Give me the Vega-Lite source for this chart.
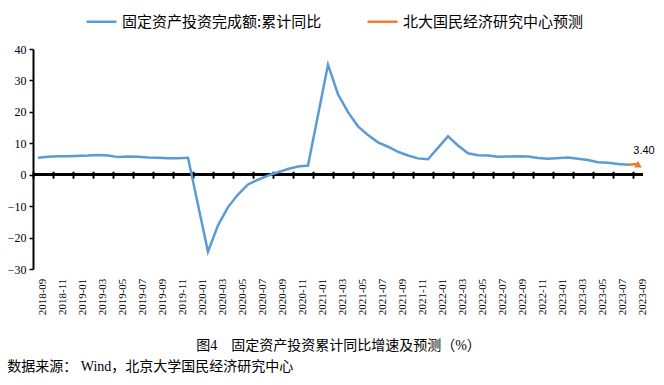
{
  "$schema": "https://vega.github.io/schema/vega-lite/v6.json",
  "width": 610,
  "height": 220,
  "autosize": "none",
  "padding": {"left": 33, "top": 49, "right": 21, "bottom": 116},
  "background": "white",
  "config": {"view": {"stroke": null}, "axis": {"labelOverlap": false}, "axisY": {"labelOverlap": false}},
  "title": {
    "text": "数据来源：  Wind，北京大学国民经济研究中心",
    "orient": "bottom",
    "anchor": "start",
    "frame": "bounds",
    "offset": 8,
    "font": "Liberation Serif, Noto Sans CJK SC",
    "fontSize": 14,
    "fontWeight": "normal",
    "color": "#000000"
  },
  "data": {
    "values": [
      {"month": "2018-09", "value": 5.4, "series": "固定资产投资完成额:累计同比"},
      {"month": "2018-10", "value": 5.7, "series": "固定资产投资完成额:累计同比"},
      {"month": "2018-11", "value": 5.9, "series": "固定资产投资完成额:累计同比"},
      {"month": "2018-12", "value": 5.9, "series": "固定资产投资完成额:累计同比"},
      {"month": "2019-02", "value": 6.1, "series": "固定资产投资完成额:累计同比"},
      {"month": "2019-03", "value": 6.3, "series": "固定资产投资完成额:累计同比"},
      {"month": "2019-04", "value": 6.1, "series": "固定资产投资完成额:累计同比"},
      {"month": "2019-05", "value": 5.6, "series": "固定资产投资完成额:累计同比"},
      {"month": "2019-06", "value": 5.8, "series": "固定资产投资完成额:累计同比"},
      {"month": "2019-07", "value": 5.7, "series": "固定资产投资完成额:累计同比"},
      {"month": "2019-08", "value": 5.5, "series": "固定资产投资完成额:累计同比"},
      {"month": "2019-09", "value": 5.4, "series": "固定资产投资完成额:累计同比"},
      {"month": "2019-10", "value": 5.2, "series": "固定资产投资完成额:累计同比"},
      {"month": "2019-11", "value": 5.2, "series": "固定资产投资完成额:累计同比"},
      {"month": "2019-12", "value": 5.4, "series": "固定资产投资完成额:累计同比"},
      {"month": "2020-02", "value": -24.5, "series": "固定资产投资完成额:累计同比"},
      {"month": "2020-03", "value": -16.1, "series": "固定资产投资完成额:累计同比"},
      {"month": "2020-04", "value": -10.3, "series": "固定资产投资完成额:累计同比"},
      {"month": "2020-05", "value": -6.3, "series": "固定资产投资完成额:累计同比"},
      {"month": "2020-06", "value": -3.1, "series": "固定资产投资完成额:累计同比"},
      {"month": "2020-07", "value": -1.6, "series": "固定资产投资完成额:累计同比"},
      {"month": "2020-08", "value": -0.3, "series": "固定资产投资完成额:累计同比"},
      {"month": "2020-09", "value": 0.8, "series": "固定资产投资完成额:累计同比"},
      {"month": "2020-10", "value": 1.8, "series": "固定资产投资完成额:累计同比"},
      {"month": "2020-11", "value": 2.6, "series": "固定资产投资完成额:累计同比"},
      {"month": "2020-12", "value": 2.9, "series": "固定资产投资完成额:累计同比"},
      {"month": "2021-02", "value": 35.0, "series": "固定资产投资完成额:累计同比"},
      {"month": "2021-03", "value": 25.6, "series": "固定资产投资完成额:累计同比"},
      {"month": "2021-04", "value": 19.9, "series": "固定资产投资完成额:累计同比"},
      {"month": "2021-05", "value": 15.4, "series": "固定资产投资完成额:累计同比"},
      {"month": "2021-06", "value": 12.6, "series": "固定资产投资完成额:累计同比"},
      {"month": "2021-07", "value": 10.3, "series": "固定资产投资完成额:累计同比"},
      {"month": "2021-08", "value": 8.9, "series": "固定资产投资完成额:累计同比"},
      {"month": "2021-09", "value": 7.3, "series": "固定资产投资完成额:累计同比"},
      {"month": "2021-10", "value": 6.1, "series": "固定资产投资完成额:累计同比"},
      {"month": "2021-11", "value": 5.2, "series": "固定资产投资完成额:累计同比"},
      {"month": "2021-12", "value": 4.9, "series": "固定资产投资完成额:累计同比"},
      {"month": "2022-02", "value": 12.2, "series": "固定资产投资完成额:累计同比"},
      {"month": "2022-03", "value": 9.3, "series": "固定资产投资完成额:累计同比"},
      {"month": "2022-04", "value": 6.8, "series": "固定资产投资完成额:累计同比"},
      {"month": "2022-05", "value": 6.2, "series": "固定资产投资完成额:累计同比"},
      {"month": "2022-06", "value": 6.1, "series": "固定资产投资完成额:累计同比"},
      {"month": "2022-07", "value": 5.7, "series": "固定资产投资完成额:累计同比"},
      {"month": "2022-08", "value": 5.8, "series": "固定资产投资完成额:累计同比"},
      {"month": "2022-09", "value": 5.9, "series": "固定资产投资完成额:累计同比"},
      {"month": "2022-10", "value": 5.8, "series": "固定资产投资完成额:累计同比"},
      {"month": "2022-11", "value": 5.3, "series": "固定资产投资完成额:累计同比"},
      {"month": "2022-12", "value": 5.1, "series": "固定资产投资完成额:累计同比"},
      {"month": "2023-02", "value": 5.5, "series": "固定资产投资完成额:累计同比"},
      {"month": "2023-03", "value": 5.1, "series": "固定资产投资完成额:累计同比"},
      {"month": "2023-04", "value": 4.7, "series": "固定资产投资完成额:累计同比"},
      {"month": "2023-05", "value": 4.0, "series": "固定资产投资完成额:累计同比"},
      {"month": "2023-06", "value": 3.8, "series": "固定资产投资完成额:累计同比"},
      {"month": "2023-07", "value": 3.4, "series": "固定资产投资完成额:累计同比"},
      {"month": "2023-08", "value": 3.2, "series": "固定资产投资完成额:累计同比"},
      {"month": "2023-08", "value": 3.2, "series": "北大国民经济研究中心预测"},
      {"month": "2023-09", "value": 3.4, "series": "北大国民经济研究中心预测", "forecast": true}
    ]
  },
  "encoding": {
    "x": {
      "field": "month",
      "type": "ordinal",
      "sort": null,
      "scale": {
        "type": "band",
        "paddingInner": 0,
        "paddingOuter": 0,
        "domain": ["2018-09","2018-10","2018-11","2018-12","2019-01","2019-02","2019-03","2019-04","2019-05","2019-06","2019-07","2019-08","2019-09","2019-10","2019-11","2019-12","2020-01","2020-02","2020-03","2020-04","2020-05","2020-06","2020-07","2020-08","2020-09","2020-10","2020-11","2020-12","2021-01","2021-02","2021-03","2021-04","2021-05","2021-06","2021-07","2021-08","2021-09","2021-10","2021-11","2021-12","2022-01","2022-02","2022-03","2022-04","2022-05","2022-06","2022-07","2022-08","2022-09","2022-10","2022-11","2022-12","2023-01","2023-02","2023-03","2023-04","2023-05","2023-06","2023-07","2023-08","2023-09"]
      },
      "axis": {
        "values": ["2018-09","2018-11","2019-01","2019-03","2019-05","2019-07","2019-09","2019-11","2020-01","2020-03","2020-05","2020-07","2020-09","2020-11","2021-01","2021-03","2021-05","2021-07","2021-09","2021-11","2022-01","2022-03","2022-05","2022-07","2022-09","2022-11","2023-01","2023-03","2023-05","2023-07","2023-09"],
        "bandPosition": 0,
        "labelOffset": 5,
        "offset": -97.8,
        "domain": false,
        "grid": false,
        "ticks": true,
        "tickSize": 7,
        "tickWidth": 2,
        "tickColor": "#000000",
        "labelAngle": 270,
        "labelPadding": 100,
        "labelOverlap": false,
        "labelFont": "Liberation Serif",
        "labelFontSize": 11,
        "labelColor": "#000000",
        "title": "图4　固定资产投资累计同比增速及预测（%）",
        "titleFont": "Liberation Serif, Noto Sans CJK SC",
        "titleFontSize": 14,
        "titleFontWeight": "normal",
        "titleColor": "#000000",
        "titleY": 174,
        "titleBaseline": "middle"
      }
    },
    "y": {
      "field": "value",
      "type": "quantitative",
      "scale": {"domain": [-30, 40], "nice": false, "zero": false},
      "axis": {
        "values": [-30, -20, -10, 0, 10, 20, 30, 40],
        "labelOverlap": false,
        "title": null,
        "grid": false,
        "domain": true,
        "domainColor": "#000000",
        "domainWidth": 2,
        "ticks": true,
        "tickSize": 4,
        "tickWidth": 1.5,
        "tickColor": "#000000",
        "labelFont": "Liberation Serif",
        "labelFontSize": 12,
        "labelColor": "#000000",
        "labelPadding": 3
      }
    }
  },
  "layer": [
    {
      "mark": {"type": "rule", "color": "#000000", "strokeWidth": 2},
      "encoding": {"x": null, "y": {"datum": 0, "type": "quantitative"}}
    },
    {
      "mark": {"type": "line", "strokeWidth": 2.5},
      "encoding": {
        "color": {
          "field": "series",
          "type": "nominal",
          "sort": ["固定资产投资完成额:累计同比", "北大国民经济研究中心预测"],
          "scale": {
            "domain": ["固定资产投资完成额:累计同比", "北大国民经济研究中心预测"],
            "range": ["#5B9BD5", "#ED7D31"]
          },
          "legend": {
            "title": null,
            "orient": "none",
            "legendX": 52,
            "legendY": -44,
            "direction": "horizontal",
            "symbolType": "stroke",
            "symbolSize": 900,
            "symbolStrokeWidth": 2.5,
            "labelFont": "Noto Sans CJK SC",
            "labelFontSize": 15,
            "labelColor": "#000000",
            "labelLimit": 400,
            "labelOffset": 4,
            "columnPadding": 40
          }
        }
      }
    },
    {
      "transform": [{"filter": "datum.forecast === true"}],
      "mark": {"type": "point", "shape": "triangle-up", "filled": true, "size": 60, "color": "#ED7D31", "opacity": 1}
    },
    {
      "transform": [{"filter": "datum.forecast === true"}],
      "mark": {"type": "text", "dx": 6, "dy": -13, "font": "Liberation Sans", "fontSize": 11, "color": "#000000"},
      "encoding": {
        "text": {"field": "value", "type": "quantitative", "format": ".2f"}
      }
    }
  ]
}
